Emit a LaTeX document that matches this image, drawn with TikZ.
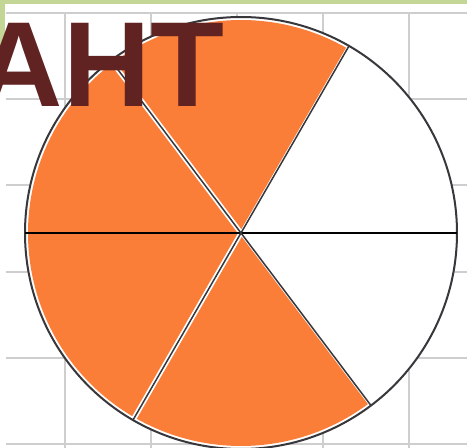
\documentclass[tikz,border=0pt]{standalone}
\usepackage{fontspec}
\newfontfamily\titlefont{Liberation Sans}
\usetikzlibrary{positioning, calc}
\definecolor{sectororange}{RGB}{250,125,56}
\definecolor{titlebrown}{RGB}{97,34,34}
\definecolor{framegreen}{RGB}{196,214,150}
\definecolor{gridgray}{RGB}{206,206,206}
\definecolor{rimgray}{RGB}{55,55,60}

\begin{document}
\begin{tikzpicture}[x=1pt, y=1pt]
\useasboundingbox (0,0) rectangle (467,448);
\fill[white] (0,0) rectangle (467,448);

% Green frame
\fill[framegreen] (0,444) rectangle (467,448);
\fill[framegreen] (0,371) rectangle (5,448);

% Draw grid
\foreach \x in {65,151,237,323,409} {
   \draw[gridgray, line width=1.5] (\x,435) -- (\x,0);
}
\foreach \y in {435,349,263,176,90,4} {
   \draw[gridgray, line width=1.5] (6,\y) -- (467,\y);
}

% Circle with sectors
\coordinate (O) at (241,215);
\fill[white] (O) circle[radius=216];
\foreach \a/\b in {60/127,127/180,180/240,240/307} {
   \fill[sectororange] (O) -- ++(\a:213) arc[start angle=\a, end angle=\b, radius=213] -- cycle;
}

\foreach \a in {0,60,127,180,240,307} {
   \coordinate (p\a) at ($(O)+(\a:216)$);
}

% White gaps along the cuts
\draw[white, line width=5] (O) -- (p127);
\draw[white, line width=5] (O) -- (p240);
\draw[white, line width=3] (O) -- (p60);
\draw[white, line width=3] (O) -- (p307);

\draw[rimgray, line width=2] (O) circle[radius=216];
\draw[black, line width=2.2] (p180) -- (p0);
\draw[rimgray, line width=1.5] (p60) -- (p240);
\draw[rimgray, line width=1.5] (p127) -- (p307);

\node[anchor=base west, inner sep=0, text=titlebrown, font=\fontsize{121}{121}\selectfont\titlefont\bfseries] (title) at (-24.4,341) {АНТ};
\end{tikzpicture}
\end{document}
